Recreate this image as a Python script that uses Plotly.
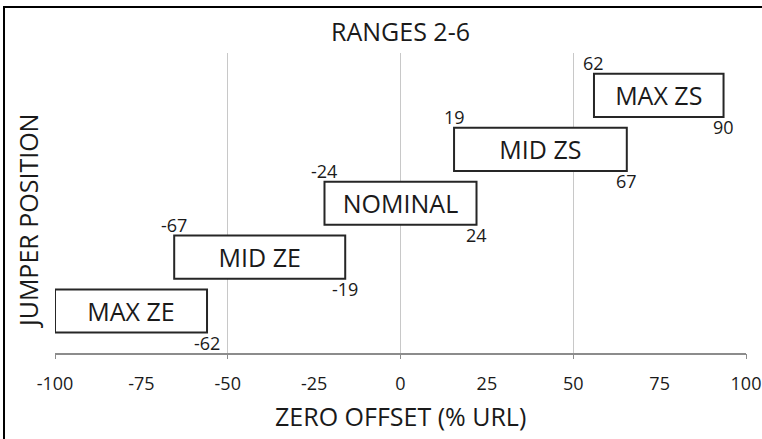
import plotly.graph_objects as go

# Data
categories = ["MAX ZE", "MID ZE", "NOMINAL", "MID ZS", "MAX ZS"]
bar_start = [-100, -65.5, -22, 15.5, 56]
bar_end = [-56, -16, 22, 65.5, 93.5]
start_labels = [None, -67, -24, 19, 62]
end_labels = [-62, -19, 24, 67, 90]
tick_values = [-100, -75, -50, -25, 0, 25, 50, 75, 100]

FONT = "Open Sans"
TXT = "#1a1a1a"

lengths = [e - s for s, e in zip(bar_start, bar_end)]

fig = go.Figure()
# empty trace so the gridline axis (every 50) is drawn
fig.add_trace(go.Scatter(x=[], y=[], xaxis="x2", yaxis="y", showlegend=False, hoverinfo="skip"))
fig.add_trace(go.Bar(
    y=categories, x=lengths, base=bar_start, orientation="h",
    width=0.8,
    marker=dict(color="white", line=dict(color="#262626", width=2)),
    text=categories, textposition="inside", insidetextanchor="middle",
    textangle=0, constraintext="none",
    textfont=dict(family=FONT, size=25, color=TXT),
    hoverinfo="skip", showlegend=False,
))

annotations = []
for cat, s, e, sl, el in zip(categories, bar_start, bar_end, start_labels, end_labels):
    if sl is not None:
        annotations.append(dict(x=s, y=cat, xref="x", yref="y", text=str(sl),
                                showarrow=False, yshift=32, xanchor="center", yanchor="middle",
                                font=dict(family=FONT, size=18, color=TXT)))
    if el is not None:
        annotations.append(dict(x=e, y=cat, xref="x", yref="y", text=str(el),
                                showarrow=False, yshift=-32, xanchor="center", yanchor="middle",
                                font=dict(family=FONT, size=18, color=TXT)))

annotations += [
    dict(text="RANGES 2-6", x=0.5, y=1.073, xref="paper", yref="paper", showarrow=False,
         xanchor="center", yanchor="middle", font=dict(family=FONT, size=25, color=TXT)),
    dict(text="ZERO OFFSET (% URL)", x=0.5, y=-0.209, xref="paper", yref="paper", showarrow=False,
         xanchor="center", yanchor="middle", font=dict(family=FONT, size=25, color=TXT)),
    dict(text="JUMPER POSITION", x=-0.039, y=0.44, xref="paper", yref="paper", showarrow=False,
         textangle=-90, xanchor="center", yanchor="middle", font=dict(family=FONT, size=25, color=TXT)),
]

fig.update_layout(
    width=762, height=439,
    margin=dict(l=55, r=16, t=53, b=86, autoexpand=False),
    paper_bgcolor="white", plot_bgcolor="white",
    xaxis=dict(range=[-100, 100], tickvals=tick_values, ticktext=[str(v) for v in tick_values],
               showgrid=False, zeroline=False, showline=True, linecolor="#8c8c8c", linewidth=1.5,
               ticks="", tickfont=dict(family=FONT, size=18, color=TXT),
               ticklabelstandoff=14, automargin=False),
    xaxis2=dict(overlaying="x", matches="x", anchor="y", side="bottom", range=[-100, 100],
                tick0=0, dtick=50, showgrid=True, gridcolor="#c8c8c8", gridwidth=1.2,
                showticklabels=False, zeroline=False, ticks="outside", ticklen=5,
                tickcolor="#8c8c8c", automargin=False),
    yaxis=dict(categoryorder="array", categoryarray=categories, range=[-0.779, 4.787],
               showticklabels=False, showgrid=False, zeroline=False, ticks="", showline=False,
               automargin=False),
    annotations=annotations,
    shapes=[dict(type="rect", xref="paper", yref="paper", x0=-0.0738, x1=1.2, y0=-0.5, y1=1.1533,
                 line=dict(color="black", width=2), fillcolor="rgba(0,0,0,0)", layer="above")],
    font=dict(family=FONT, color=TXT),
)

fig.write_html("out.html", config={"displayModeBar": False},
               post_script="document.body.style.margin='0';")
